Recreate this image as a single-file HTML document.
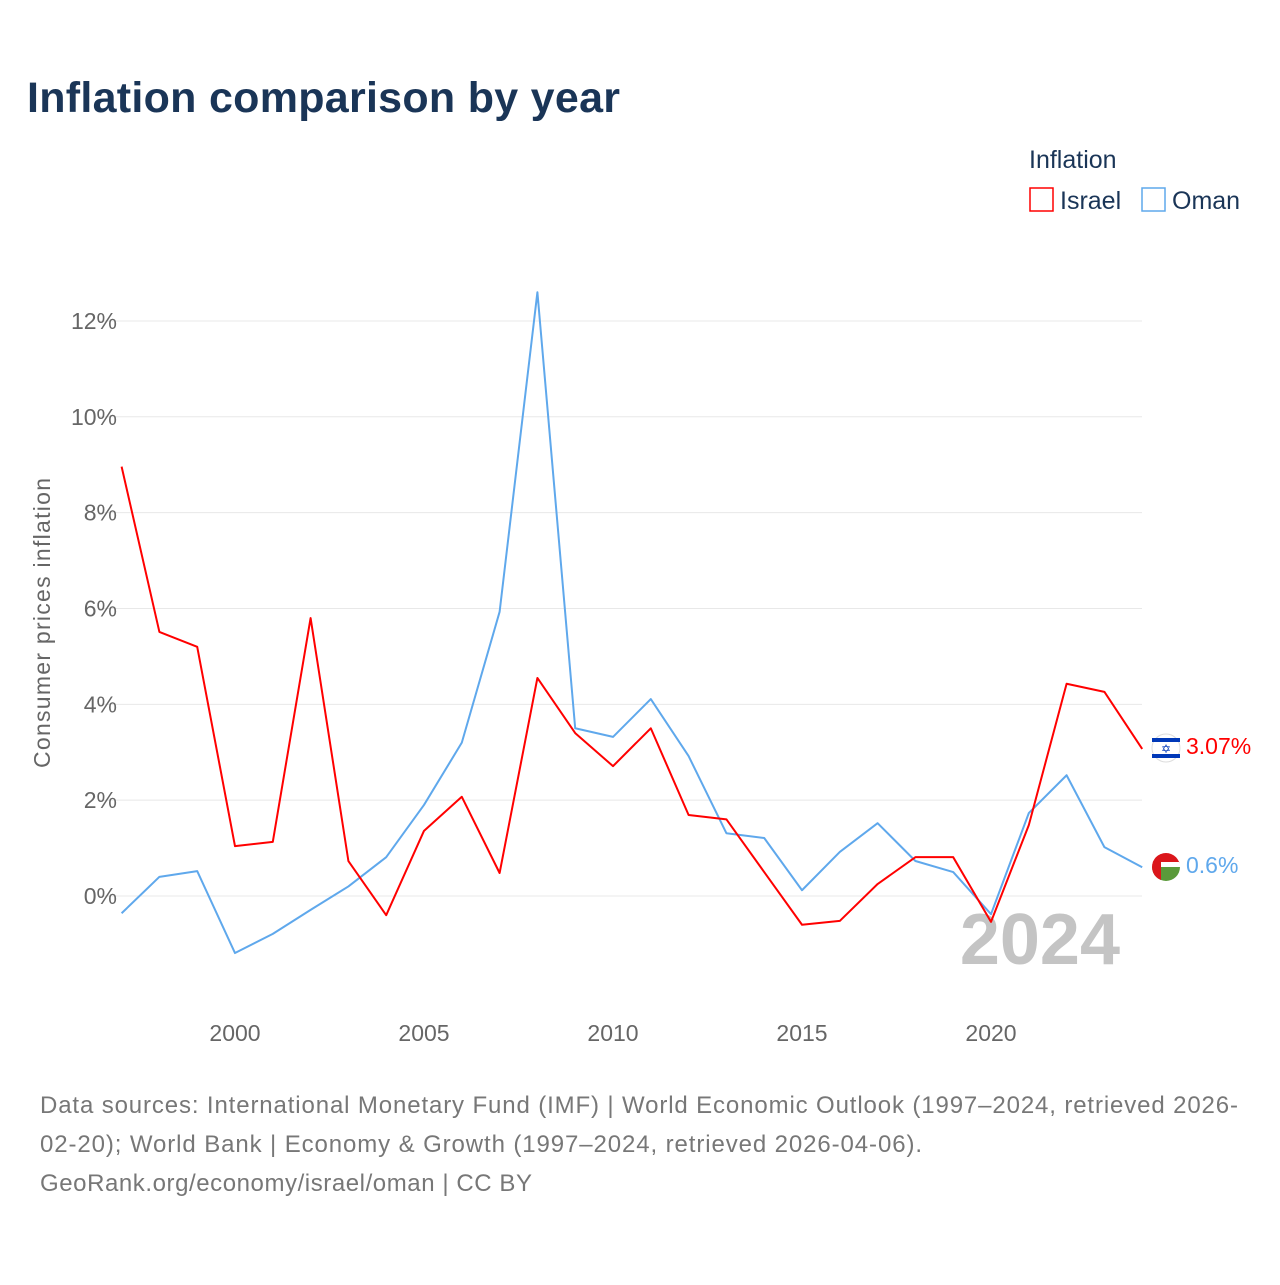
<!DOCTYPE html>
<html><head><meta charset="utf-8"><style>
body{margin:0;width:1280px;height:1280px;background:#fff;font-family:"Liberation Sans",sans-serif;overflow:hidden}
</style></head><body>
<svg width="1280" height="1280">
<defs><clipPath id="fc"><circle cx="1166" cy="867" r="14"/></clipPath></defs>
<text x="27" y="112" font-size="43" font-weight="bold" fill="#1a3557" textLength="593">Inflation comparison by year</text>
<text x="1029" y="168" font-size="25" fill="#1a3557">Inflation</text>
<g><rect x="1030" y="188" width="23" height="23" fill="none" stroke="#f00" stroke-width="1.5"/><text x="1060" y="209" font-size="25" fill="#1a3557">Israel</text></g>
<g><rect x="1142" y="188" width="23" height="23" fill="none" stroke="#5fa8ec" stroke-width="1.5"/><text x="1172" y="209" font-size="25" fill="#1a3557">Oman</text></g>
<text transform="translate(50,623) rotate(-90)" text-anchor="middle" font-size="23" fill="#666" textLength="290">Consumer prices inflation</text>
<g id="grid"></g><g id="yt"></g><g id="xt"></g>
<text x="1120" y="964" text-anchor="end" font-size="72" font-weight="bold" fill="#c4c4c4">2024</text>
<g id="lines"></g>
<g><circle cx="1166" cy="748" r="14" fill="#fff" stroke="#ddd"/><rect x="1152" y="738" width="28" height="4" fill="#0038b8"/><rect x="1152" y="754" width="28" height="4" fill="#0038b8"/><text x="1166" y="753" text-anchor="middle" font-size="12" fill="#0038b8">✡</text><text x="1186" y="754" font-size="23" fill="#f00">3.07%</text></g>
<g><g clip-path="url(#fc)"><rect x="1152" y="853" width="28" height="10" fill="#db161b"/><rect x="1152" y="862" width="28" height="6" fill="#fff"/><rect x="1152" y="867" width="28" height="14" fill="#5a9a3a"/><rect x="1152" y="853" width="9" height="28" fill="#db161b"/></g><text x="1186" y="873" font-size="23" fill="#5fa8ec">0.6%</text></g>
<text font-size="24" fill="#777"><tspan x="40" y="1113" textLength="1198">Data sources: International Monetary Fund (IMF) | World Economic Outlook (1997–2024, retrieved 2026-</tspan><tspan x="40" y="1152" textLength="882">02-20); World Bank | Economy &amp; Growth (1997–2024, retrieved 2026-04-06).</tspan><tspan x="40" y="1191" textLength="492">GeoRank.org/economy/israel/oman | CC BY</tspan></text>
</svg>
<script>
const years=[1997,1998,1999,2000,2001,2002,2003,2004,2005,2006,2007,2008,2009,2010,2011,2012,2013,2014,2015,2016,2017,2018,2019,2020,2021,2022,2023,2024];
const israel=[8.96,5.51,5.2,1.04,1.13,5.8,0.73,-0.4,1.36,2.07,0.48,4.55,3.4,2.71,3.5,1.69,1.6,0.5,-0.6,-0.52,0.25,0.81,0.81,-0.54,1.48,4.43,4.26,3.07];
const oman=[-0.36,0.4,0.52,-1.19,-0.79,-0.29,0.2,0.81,1.9,3.2,5.93,12.6,3.5,3.32,4.11,2.92,1.31,1.21,0.12,0.92,1.52,0.73,0.5,-0.38,1.73,2.52,1.02,0.6];
const yTicks=[0,2,4,6,8,10,12];
const xTicks=[2000,2005,2010,2015,2020];
const X=y=>121.6+(y-1997)*37.8, Y=v=>896-v*47.92;
const NS="http://www.w3.org/2000/svg";
function mk(t,a,p){const e=document.createElementNS(NS,t);for(const k in a)e.setAttribute(k,a[k]);p.appendChild(e);return e;}
const g=document.getElementById('grid'),yt=document.getElementById('yt'),xt=document.getElementById('xt'),L=document.getElementById('lines');
yTicks.forEach(v=>{const l=mk('line',{x1:100,x2:1142,y1:Y(v),y2:Y(v),stroke:'#e8e8e8'},g);


const t=mk('text',{x:117,y:Y(v)+8,'text-anchor':'end','font-size':23,fill:'#666'},yt);t.textContent=v+'%';

});
xTicks.forEach(v=>{const t=mk('text',{x:X(v),y:1041,'text-anchor':'middle','font-size':23,fill:'#666'},xt);t.textContent=v;

});
[[oman,'#5fa8ec','oman-line'],[israel,'#f00','israel-line']].forEach(([d,c,n])=>{
const p=mk('polyline',{points:d.map((v,i)=>X(years[i])+','+Y(v)).join(' '),fill:'none',stroke:c,'stroke-width':2,'stroke-linejoin':'round'},L);

});
</script>
</body></html>
